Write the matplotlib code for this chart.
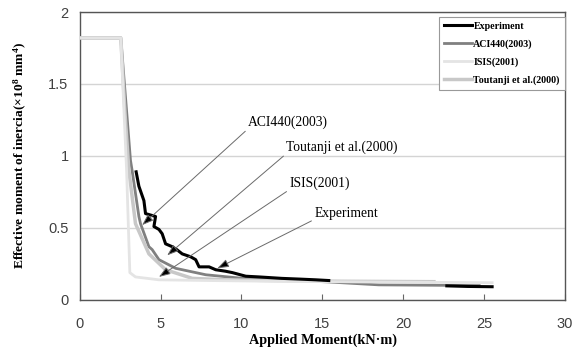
import numpy as np
import matplotlib
matplotlib.use("Agg")
import matplotlib.pyplot as plt

plt.rcParams['font.family'] = ['Liberation Sans', 'DejaVu Sans']
plt.rcParams['mathtext.default'] = 'regular'

# data
nan = np.nan
exp_x = [3.49, 3.66, 3.97, 4.07, 4.69, 4.59, 4.90, 5.10, 5.31, 5.72, 6.0, 6.34, 6.86, 7.17,
         7.38, 8.0, 8.41, 9.0, 9.44, 10.27, 11.1, 12.5, 13.6, 14.6, 15.4, nan, 22.7, 24.0, 25.5]
exp_y = [0.89, 0.79, 0.69, 0.60, 0.58, 0.51, 0.49, 0.46, 0.39, 0.37, 0.35, 0.32, 0.30, 0.28,
         0.23, 0.23, 0.21, 0.20, 0.19, 0.165, 0.16, 0.15, 0.145, 0.14, 0.135, nan, 0.098, 0.094, 0.092]

aci_x = [0, 2.54, 2.93, 3.14, 3.24, 3.66, 3.76, 4.28, 4.48, 4.9, 5.93, 7.8, 10.1, 13.0, 15.4, 18.5, 21.0, 24.7]
aci_y = [1.82, 1.82, 1.27, 0.97, 0.90, 0.58, 0.53, 0.37, 0.35, 0.28, 0.22, 0.175, 0.15, 0.138, 0.125, 0.105, 0.103, 0.10]

isis_x = [0, 2.54, 2.9, 3.1, 3.45, 4.9, 8.0, 12.0, 18.0, 25.5]
isis_y = [1.82, 1.82, 0.9, 0.19, 0.16, 0.14, 0.135, 0.13, 0.125, 0.12]

tou_x = [0, 2.54, 2.8, 3.04, 3.45, 4.28, 5.31, 6.96, 9.0, 12.0, 16.2, 21.9]
tou_y = [1.82, 1.82, 1.3, 0.90, 0.53, 0.32, 0.21, 0.15, 0.14, 0.135, 0.13, 0.127]

notes = ['ACI440(2003)', 'Toutanji et al.(2000)', 'ISIS(2001)', 'Experiment']
note_text = [(10.41, 1.236), (12.77, 1.0625), (12.96, 0.8125), (14.5, 0.604)]
note_tip = [(3.86, 0.52), (5.41, 0.31), (4.9, 0.16), (8.51, 0.22)]

fig = plt.figure(figsize=(5.86, 3.48), dpi=100)
ax = fig.add_axes([0.136, 0.138, 0.828, 0.8275])

ax.plot(aci_x, aci_y, color='#808080', lw=2.0, label='ACI440(2003)', zorder=3)
ax.plot(tou_x, tou_y, color='#c8c8c8', lw=2.5, label='Toutanji et al.(2000)', zorder=3)
ax.plot(isis_x, isis_y, color='#e4e4e4', lw=2.0, label='ISIS(2001)', zorder=3)
ax.plot(exp_x, exp_y, color='black', lw=2.2, label='Experiment', zorder=4)

serif = ['Liberation Serif', 'DejaVu Serif']
for txt, (tx, ty), (px, py) in zip(notes, note_text, note_tip):
    ax.annotate(txt, xy=(px, py), xytext=(tx, ty), ha='left', va='center',
                fontsize=9.8, family=serif, zorder=5,
                arrowprops=dict(arrowstyle='-|>,head_length=0.7,head_width=0.25',
                                lw=0.7, ec='#6a6a6a', fc='black', relpos=(0, 0),
                                shrinkA=0, shrinkB=0))

ax.set_xlim(0, 30)
ax.set_ylim(0, 2)
ax.set_xticks([0, 5, 10, 15, 20, 25, 30])
ax.set_yticks([0, 0.5, 1, 1.5, 2])
ax.set_yticklabels(['0', '0.5', '1', '1.5', '2'])
ax.tick_params(axis='x', direction='in', length=4, pad=12, labelsize=10.5,
               color='#666666', labelcolor='#404040')
ax.tick_params(axis='y', length=0, pad=8, labelsize=10.5, labelcolor='#404040')
ax.grid(axis='y', color='#d4d4d4', lw=1.0)
ax.set_axisbelow(True)
for s in ax.spines.values():
    s.set_color('#555555')
    s.set_linewidth(1.0)

ax.set_xlabel('Applied Moment(kN·m)', family=serif, fontweight='bold', fontsize=10.3)
ax.xaxis.set_label_coords(0.502, -0.115)
ax.set_ylabel('Effective moment of inercia(×10$^{8}$ mm$^{4}$)', family=serif,
              fontweight='bold', fontsize=9.7)
ax.yaxis.set_label_coords(-0.105, 0.5)

handles, labels = ax.get_legend_handles_labels()
order = [3, 0, 2, 1]
leg = ax.legend([handles[i] for i in order], [labels[i] for i in order],
                loc='upper right', bbox_to_anchor=(1.0, 0.983), borderaxespad=0,
                fancybox=False, framealpha=1, edgecolor='#999999', handlelength=2.8,
                handletextpad=0.1, labelspacing=0.85, borderpad=0.5,
                prop=dict(family=serif, weight='bold', size=7.2))
leg.get_frame().set_linewidth(0.8)

fig.savefig('out.png', dpi=100)
